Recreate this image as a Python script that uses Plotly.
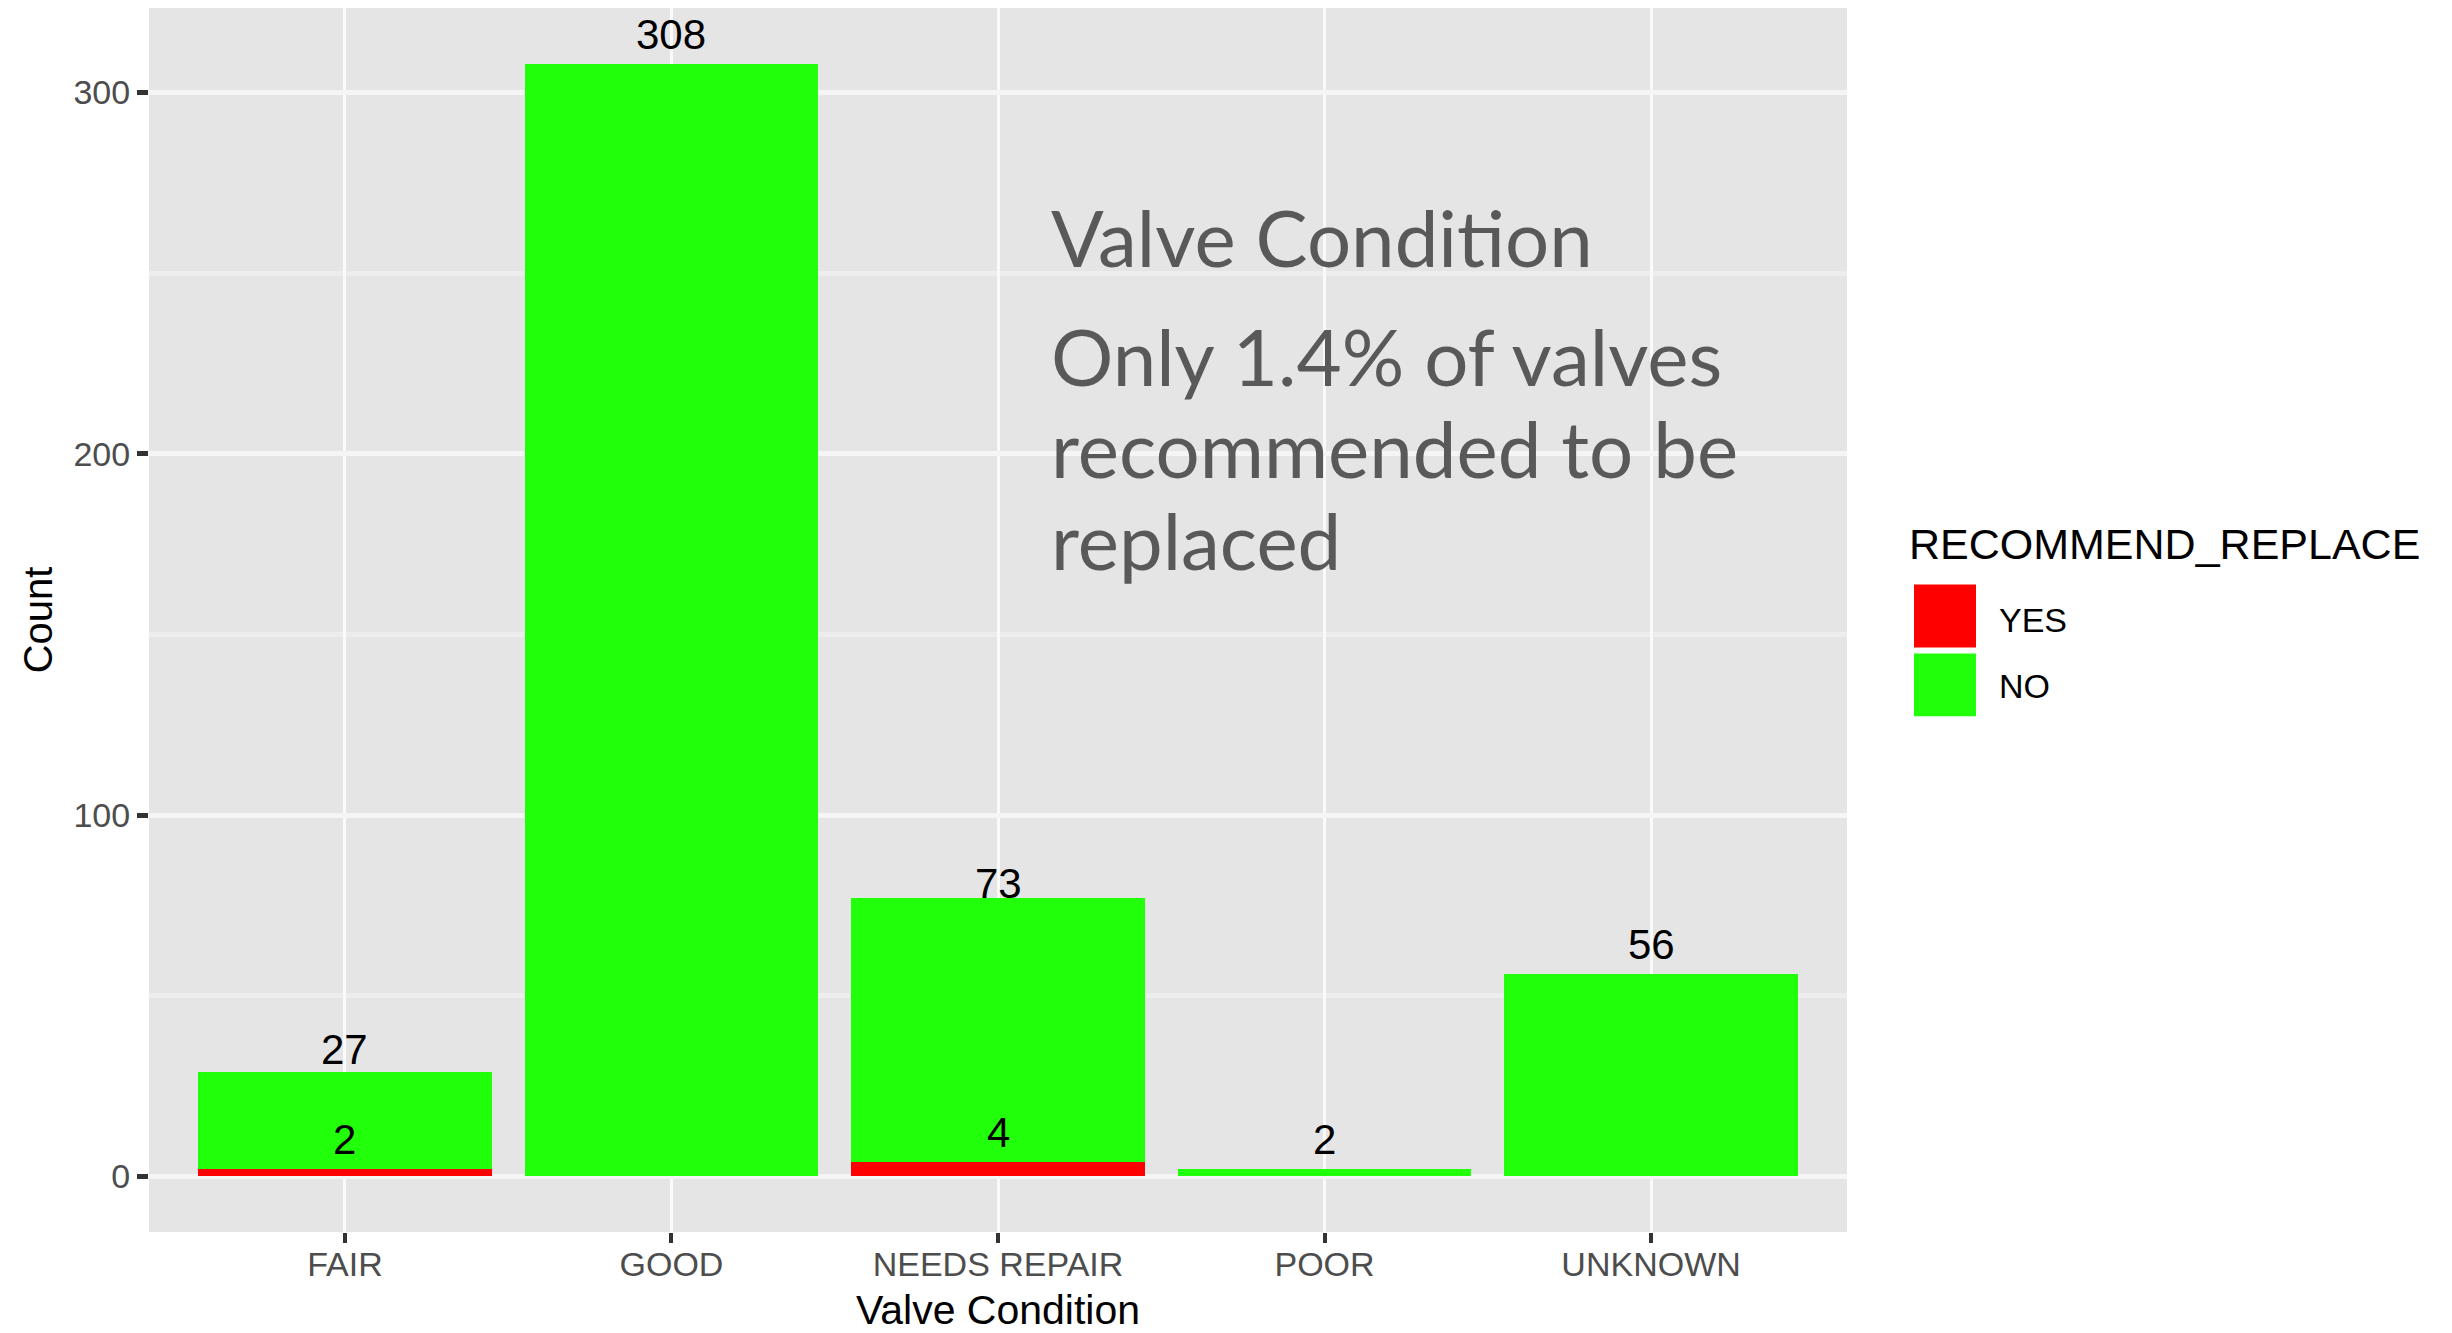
import plotly.graph_objects as go

# ---------------- data ----------------
categories = ["FAIR", "GOOD", "NEEDS REPAIR", "POOR", "UNKNOWN"]
yes_counts = [2, 0, 4, 0, 0]
no_counts = [27, 308, 73, 2, 56]
y_ticks = [0, 100, 200, 300]
series_names = ["YES", "NO"]
series_colors = ["#FF0000", "#22FF0A"]
legend_title = "RECOMMEND_REPLACE"
note_title = "Valve Condition"
note_lines = ["Only 1.4% of valves", "recommended to be", "replaced"]

# ---------------- geometry (pixels) ----------------
W, H = 2452, 1333
PL, PR, PT, PB = 149, 1847, 8, 1235          # plot panel edges
pw, ph = PR - PL, PB - PT


def px(x):
    return (x - PL) / pw


def py(y):
    return (PB - y) / ph


FONT = "Liberation Sans, Arial, Helvetica, sans-serif"
NOTE_FONT = "Lato, Open Sans, sans-serif"
NOTE_SIZE = 78

fig = go.Figure()
for name, vals, col in zip(series_names, [yes_counts, no_counts], series_colors):
    fig.add_trace(go.Bar(
        x=categories, y=vals, name=name, width=0.9,
        marker=dict(color=col, line=dict(width=0)),
        showlegend=False, hoverinfo="x+y+name",
    ))

annotations = []
# count labels (placed at each group's own count, like geom_text(aes(y=count)))
for vals in [yes_counts, no_counts]:
    for c, v in zip(categories, vals):
        if v > 0:
            annotations.append(dict(
                x=c, y=v, xref="x", yref="y", text=str(v), showarrow=False,
                yanchor="bottom", xanchor="center", yshift=4,
                font=dict(family=FONT, size=42, color="#000000"),
            ))

# text box
note_baselines = [268, 387, 480, 572]
note_descent = 0.213 * NOTE_SIZE + 2
for txt, b in zip([note_title] + note_lines, note_baselines):
    annotations.append(dict(
        x=px(1049), y=py(b + note_descent), xref="paper", yref="paper",
        text=txt, showarrow=False, xanchor="left", yanchor="bottom",
        font=dict(family=NOTE_FONT, size=NOTE_SIZE, color="#595959"),
    ))

# manual legend (ggplot-style large keys)
annotations.append(dict(
    x=px(1907), y=py(560 + 2 + 0.212 * 43), xref="paper", yref="paper",
    text=legend_title, showarrow=False, xanchor="left", yanchor="bottom",
    font=dict(family=FONT, size=43, color="#000000"),
))
key_tops = [586, 655]
key_bottoms = [649, 718]
label_baselines = [633, 700]
shapes = []
for name, col, t, bt, lb in zip(series_names, series_colors, key_tops, key_bottoms, label_baselines):
    shapes.append(dict(
        type="rect", xref="paper", yref="paper",
        x0=px(1914), x1=px(1976), y0=py(bt), y1=py(t),
        fillcolor=col, line=dict(width=0), layer="above",
    ))
    annotations.append(dict(
        x=px(1997), y=py(lb + 2 + 0.212 * 34), xref="paper", yref="paper",
        text=name, showarrow=False, xanchor="left", yanchor="bottom",
        font=dict(family=FONT, size=34, color="#000000"),
    ))

fig.update_layout(
    width=W, height=H, autosize=False,
    margin=dict(l=PL, r=W - PR, t=PT, b=H - PB, pad=0),
    paper_bgcolor="#FFFFFF", plot_bgcolor="#E5E5E5",
    barmode="stack", bargap=0.1,
    showlegend=False,
    annotations=annotations, shapes=shapes,
    font=dict(family=FONT),
    xaxis=dict(
        type="category", categoryorder="array", categoryarray=categories,
        range=[-0.6, len(categories) - 0.4],
        showgrid=True, gridcolor="#FAFAFA", gridwidth=3,
        ticks="outside", ticklen=10, tickwidth=4, tickcolor="#333333",
        ticklabelstandoff=-8,
        tickfont=dict(family=FONT, size=34, color="#4D4D4D"),
        title=dict(text="Valve Condition", font=dict(family=FONT, size=41, color="#000000"), standoff=14),
        zeroline=False, showline=False, fixedrange=True,
    ),
    yaxis=dict(
        range=[-15.4, 323.4], tickmode="array", tickvals=y_ticks,
        showgrid=True, gridcolor="#F5F5F5", gridwidth=5,
        minor=dict(dtick=50, tick0=0, showgrid=True, gridcolor="#EDEDED", gridwidth=5),
        ticks="outside", ticklen=11, tickwidth=5, tickcolor="#333333",
        tickfont=dict(family=FONT, size=34, color="#4D4D4D"),
        title=dict(text="Count", font=dict(family=FONT, size=40, color="#000000"), standoff=8),
        zeroline=False, showline=False, fixedrange=True,
    ),
)

fig.write_html(
    "out.html",
    config={"displayModeBar": False},
    post_script="document.body.style.margin='0';document.body.style.padding='0';"
                "document.body.style.overflow='hidden';",
)
